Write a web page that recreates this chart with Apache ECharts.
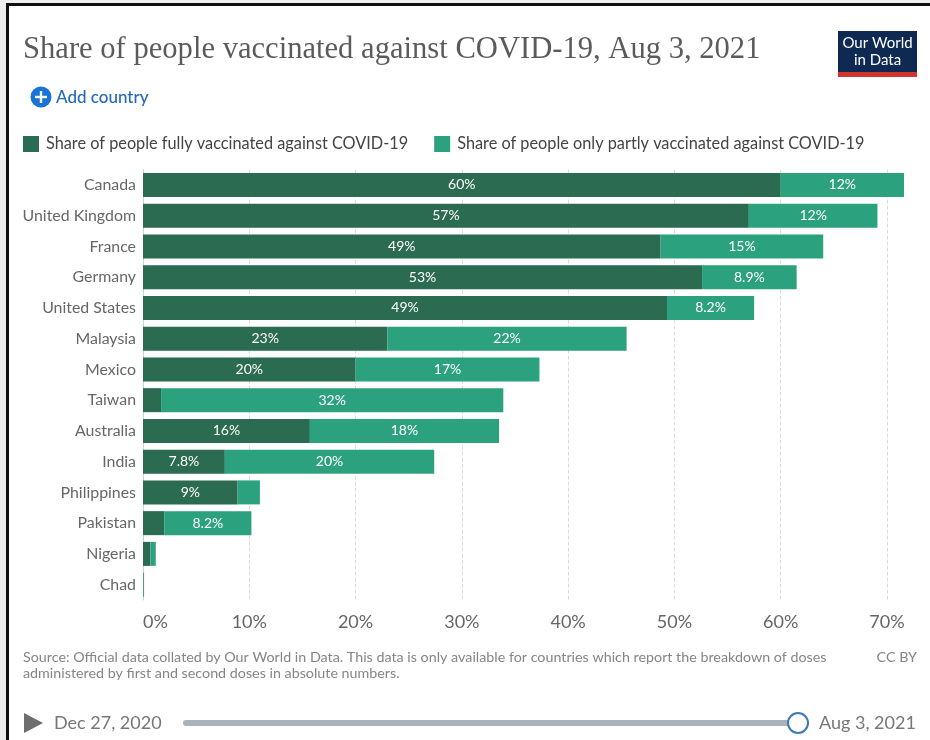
<!DOCTYPE html>
<html><head><meta charset="utf-8">
<style>html,body{margin:0;padding:0;background:#fff}#c{width:930px;height:740px}</style>
<script src="https://cdn.jsdelivr.net/npm/echarts@6/dist/echarts.min.js"></script>
</head><body><div id="c"></div>
<script>
const countries=["Canada","United Kingdom","France","Germany","United States","Malaysia","Mexico","Taiwan","Australia","India","Philippines","Pakistan","Nigeria","Chad"];
const fully=[60,57,48.7,52.6,49.3,23,20,1.7,15.7,7.7,8.9,2,0.7,0.05];
const partly=[11.6,12.1,15.3,8.9,8.2,22.5,17.3,32.2,17.8,19.7,2.1,8.2,0.5,0.05];
const fullyLabels=["60%","57%","49%","53%","49%","23%","20%","","16%","7.8%","9%","","",""];
const partlyLabels=["12%","12%","15%","8.9%","8.2%","22%","17%","32%","18%","20%","","8.2%","",""];
const xTicks=[0,10,20,30,40,50,60,70];
const titleText="Share of people vaccinated against COVID-19, Aug 3, 2021";
const fullName="Share of people fully vaccinated against COVID-19";
const partName="Share of people only partly vaccinated against COVID-19";
const source1="Source: Official data collated by Our World in Data. This data is only available for countries which report the breakdown of doses";
const source2="administered by first and second doses in absolute numbers.";

const SANS="Lato, 'Open Sans', sans-serif";
const chart=echarts.init(document.getElementById('c'),null,{renderer:'canvas'});
const lab=(arr)=>({show:true,position:'inside',color:'#fff',fontFamily:SANS,fontSize:14,
  padding:[0,0,2,0],formatter:p=>arr[p.dataIndex]});
chart.setOption({
  animation:false,
  backgroundColor:'#efefef',
  title:{text:titleText,left:18,top:29,textStyle:{fontFamily:"'Liberation Serif',serif",fontWeight:'normal',fontSize:30.6,color:'#5b5b5b'}},
  legend:{show:true,left:23,top:136,itemWidth:16,itemHeight:16,itemGap:26,icon:'rect',
    textStyle:{fontFamily:SANS,fontSize:16.3,color:'#444',padding:[0,0,0,2]},padding:0,
    data:[fullName,partName]},
  grid:{left:143,right:26,top:169.6,bottom:140,containLabel:false},
  xAxis:{type:'value',min:0,max:71.6,interval:10,position:'bottom',
    axisLine:{show:false},axisTick:{show:false},
    axisLabel:{formatter:v=>xTicks.includes(v)?v+'%':'',color:'#666',fontFamily:SANS,fontSize:18,margin:13,
      alignMinLabel:'left',showMaxLabel:false},
    splitLine:{show:true,showMaxLine:false,lineStyle:{type:'dashed',color:'#dcdcdc',width:1}}},
  yAxis:{type:'category',inverse:true,data:countries,
    axisLine:{show:true,lineStyle:{color:'#c9d3cf',width:1}},axisTick:{show:false},
    axisLabel:{color:'#666',fontFamily:SANS,fontSize:15.9,margin:7,padding:[0,0,2,0]}},
  series:[
    {name:fullName,type:'bar',stack:'v',data:fully,barWidth:24,itemStyle:{color:'#2a6b52'},label:lab(fullyLabels)},
    {name:partName,type:'bar',stack:'v',data:partly,barWidth:24,itemStyle:{color:'#2ba27d'},label:lab(partlyLabels)}
  ],
  graphic:[
    {type:'rect',z:-1,silent:true,shape:{x:7.5,y:4.5,width:940,height:760},style:{fill:'#fff',stroke:'#111',lineWidth:3}},
    {type:'circle',shape:{cx:41,cy:97,r:10.5},style:{fill:'#1a73d8'}},
    {type:'rect',shape:{x:35,y:95.8,width:12,height:2.4},style:{fill:'#fff'}},
    {type:'rect',shape:{x:39.8,y:91,width:2.4,height:12},style:{fill:'#fff'}},
    {type:'text',x:56,y:89,style:{text:'Add country',fill:'#2469b8',font:"500 17px "+SANS}},
    {type:'rect',shape:{x:838,y:31,width:79,height:41},style:{fill:'#0e2a52'}},
    {type:'rect',shape:{x:838,y:72,width:79,height:5},style:{fill:'#d0342c'}},
    {type:'text',x:877.5,y:35,style:{text:'Our World\nin Data',fill:'#fff',align:'center',font:"15px "+SANS,lineHeight:17}},
    {type:'text',x:23,y:650,style:{text:source1,fill:'#858585',font:"14.3px "+SANS}},
    {type:'text',x:23,y:666,style:{text:source2,fill:'#858585',font:"14.3px "+SANS}},
    {type:'text',x:917,y:650,style:{text:'CC BY',fill:'#858585',align:'right',font:"14.3px "+SANS}},
    {type:'polygon',shape:{points:[[24,713],[24,733],[43,723]]},style:{fill:'#6e6e6e'}},
    {type:'text',x:54,y:714,style:{text:'Dec 27, 2020',fill:'#777',font:"18px "+SANS}},
    {type:'rect',shape:{x:183,y:720,width:615,height:6,r:3},style:{fill:'#aab3bb'}},
    {type:'circle',shape:{cx:798,cy:723,r:10},style:{fill:'#fff',stroke:'#3f78b5',lineWidth:2}},
    {type:'text',x:819,y:714,style:{text:'Aug 3, 2021',fill:'#777',font:"18px "+SANS}}
  ]
});
</script></body></html>
